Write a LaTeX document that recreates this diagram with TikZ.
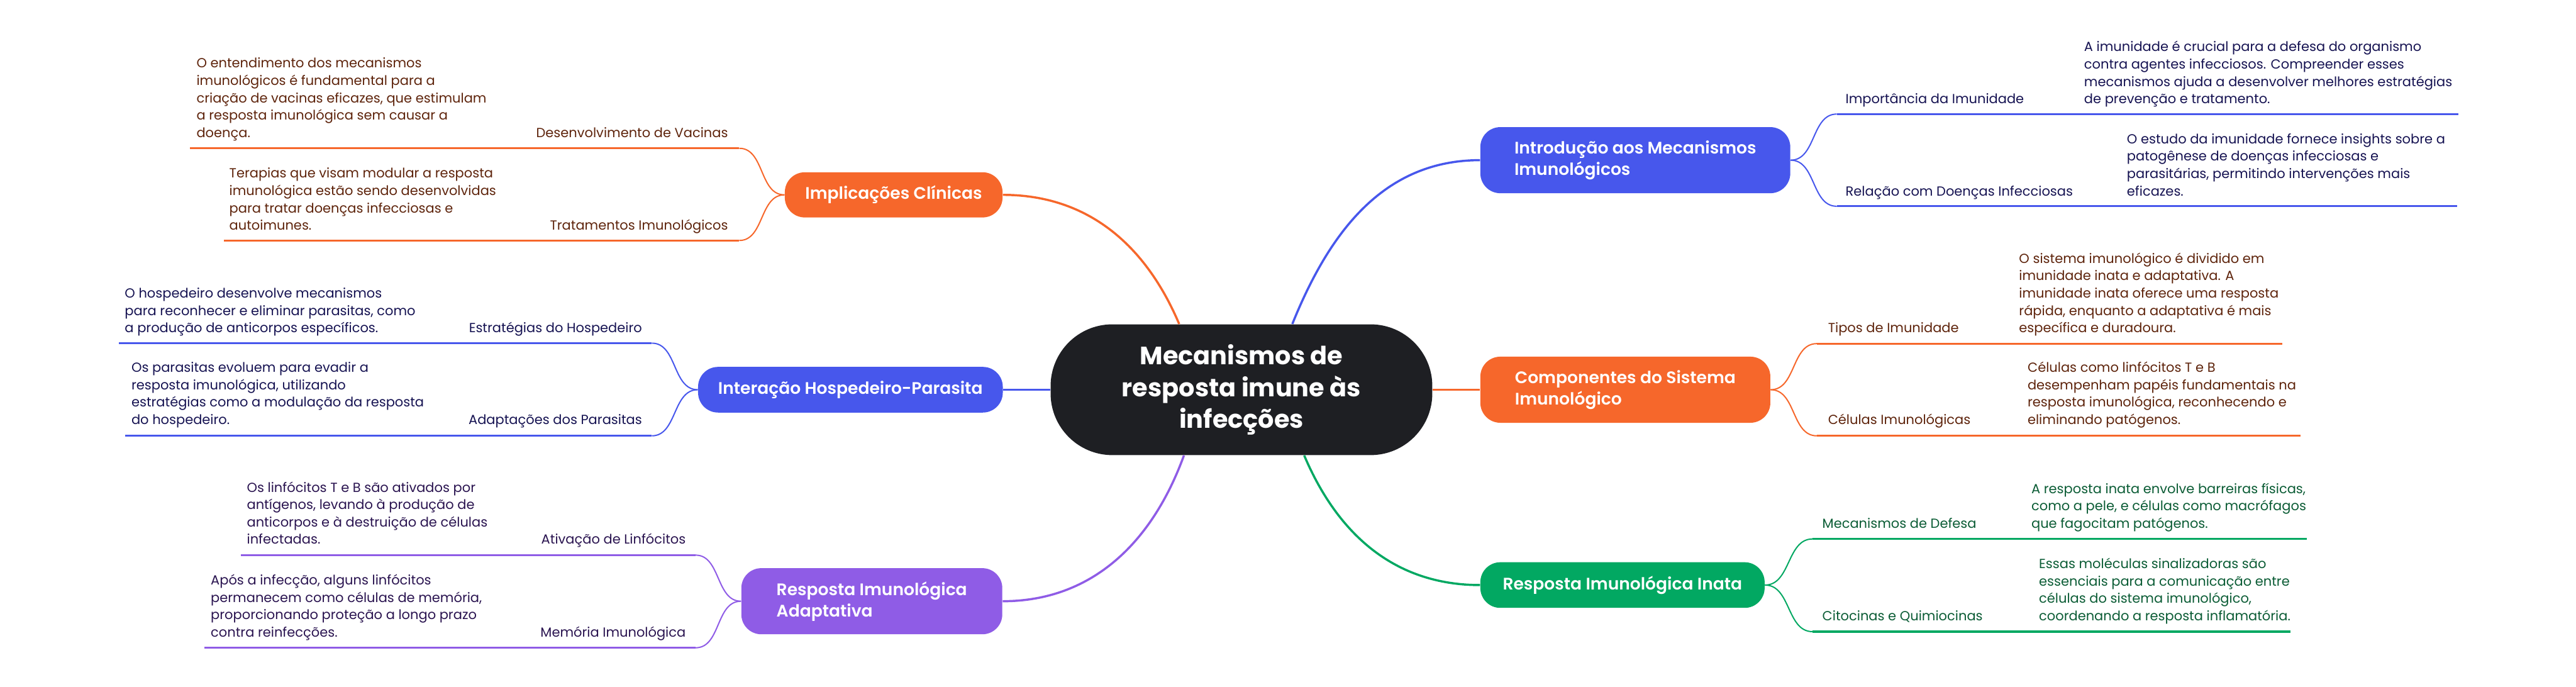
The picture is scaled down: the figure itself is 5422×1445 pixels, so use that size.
\documentclass[tikz,border=0pt]{standalone}
\usepackage{fontspec}
\setmainfont{Poppins}
\newfontfamily\semifont{Poppins SemiBold}
\usetikzlibrary{calc}
\definecolor{hub}{HTML}{1E1F23}
\definecolor{flame}{HTML}{F6672B}
\definecolor{royal}{HTML}{4757EC}
\definecolor{leaf}{HTML}{02A862}
\definecolor{grape}{HTML}{8F5CE6}
\definecolor{flameInk}{HTML}{5E240C}
\definecolor{royalInk}{HTML}{161352}
\definecolor{leafInk}{HTML}{0B5C35}
\definecolor{grapeInk}{HTML}{2A1450}
\tikzset{
  hubnode/.style={rounded corners=1.3cm,fill=hub,text=white,align=center,inner sep=0pt,
                  minimum width=8.03cm,minimum height=2.75cm,
                  font=\fontsize{15}{19}\selectfont\bfseries},
  topic/.style={rounded corners=0.42cm,text=white,align=left,inner sep=0pt,
                font=\semifont\fontsize{10}{12.8}\selectfont},
  sublabel/.style={inner sep=0pt,font=\fontsize{7.9}{10.4}\selectfont},
  subtext/.style={sublabel,align=left},
  trunk/.style={line width=1.3pt},
  twig/.style={line width=0.75pt},
  rule/.style={line width=1.15pt}
}
\begin{document}
\begin{tikzpicture}[x=0.01cm,y=-0.01cm]
  \useasboundingbox (0,0) rectangle (5422,1445);

  % centre
  \node[hubnode] (hub) at (2613,820) {Mecanismos de\\resposta imune às\\infecções};

  % main topics
  \node[topic,fill=flame,minimum width=4.58cm,minimum height=0.95cm] (impl) at (1881,410) {Implicações Clínicas};
  \node[topic,fill=royal,minimum width=6.41cm,minimum height=0.96cm] (inter) at (1790,820) {Interação Hospedeiro-Parasita};
  \node[topic,fill=grape,minimum width=5.49cm,minimum height=1.39cm] (adapt) at (1835,1265) {Resposta Imunológica\\Adaptativa};
  \node[topic,fill=royal,minimum width=6.52cm,minimum height=1.39cm] (intro) at (3442,337) {Introdução aos Mecanismos\\Imunológicos};
  \node[topic,fill=flame,minimum width=6.10cm,minimum height=1.39cm] (comp) at (3421,820) {Componentes do Sistema\\Imunológico};
  \node[topic,fill=leaf,minimum width=5.98cm,minimum height=0.96cm] (inata) at (3415,1231) {Resposta Imunológica Inata};

  \draw[trunk,flame] ([xshift=-1.31cm]hub.north) to[out=113,in=0] (impl.east);
  \draw[trunk,royal] (hub.west) -- (inter.east);
  \draw[trunk,grape] ([xshift=-1.21cm]hub.south) to[out=250,in=0] (adapt.east);
  \draw[trunk,royal] ([xshift=1.07cm]hub.north) to[out=68,in=180] (intro.west);
  \draw[trunk,flame] (hub.east) -- (comp.west);
  \draw[trunk,leaf] ([xshift=1.32cm]hub.south) to[out=-67,in=180] (inata.west);

  % Implicações Clínicas
  \coordinate (vacA) at (1556,312); \coordinate (vacB) at (400,312);
  \coordinate (traA) at (1556,506); \coordinate (traB) at (471,506);
  \node[sublabel,text=flameInk,anchor=base east] (vacL) at (1533,289) {Desenvolvimento de Vacinas};
  \node[subtext,text=flameInk,anchor=base west] (vacT) at (413,289) {O entendimento dos mecanismos\\imunológicos é fundamental para a\\criação de vacinas eficazes, que estimulam\\a resposta imunológica sem causar a\\doença.};
  \node[sublabel,text=flameInk,anchor=base east] (traL) at (1533,484) {Tratamentos Imunológicos};
  \node[subtext,text=flameInk,anchor=base west] (traT) at (482,484) {Terapias que visam modular a resposta\\imunológica estão sendo desenvolvidas\\para tratar doenças infecciosas e\\autoimunes.};
  \draw[twig,flame] (impl.west) to[out=180,in=0] (vacA);
  \draw[twig,flame] (impl.west) to[out=180,in=0] (traA);
  \draw[rule,flame] (vacA) -- (vacB);
  \draw[rule,flame] (traA) -- (traB);

  % Interação Hospedeiro-Parasita
  \coordinate (estA) at (1372,722); \coordinate (estB) at (250,722);
  \coordinate (parA) at (1372,917); \coordinate (parB) at (264,917);
  \node[sublabel,text=royalInk,anchor=base east] (estL) at (1352,700) {Estratégias do Hospedeiro};
  \node[subtext,text=royalInk,anchor=base west] (estT) at (262,700) {O hospedeiro desenvolve mecanismos\\para reconhecer e eliminar parasitas, como\\a produção de anticorpos específicos.};
  \node[sublabel,text=royalInk,anchor=base east] (parL) at (1352,893) {Adaptações dos Parasitas};
  \node[subtext,text=royalInk,anchor=base west] (parT) at (276,893) {Os parasitas evoluem para evadir a\\resposta imunológica, utilizando\\estratégias como a modulação da resposta\\do hospedeiro.};
  \draw[twig,royal] (inter.west) to[out=180,in=0] (estA);
  \draw[twig,royal] (inter.west) to[out=180,in=0] (parA);
  \draw[rule,royal] (estA) -- (estB);
  \draw[rule,royal] (parA) -- (parB);

  % Resposta Imunológica Adaptativa
  \coordinate (atvA) at (1464,1168); \coordinate (atvB) at (507,1168);
  \coordinate (memA) at (1464,1363); \coordinate (memB) at (430,1363);
  \node[sublabel,text=grapeInk,anchor=base east] (atvL) at (1444,1145) {Ativação de Linfócitos};
  \node[subtext,text=grapeInk,anchor=base west] (atvT) at (519,1145) {Os linfócitos T e B são ativados por\\antígenos, levando à produção de\\anticorpos e à destruição de células\\infectadas.};
  \node[sublabel,text=grapeInk,anchor=base east] (memL) at (1444,1340) {Memória Imunológica};
  \node[subtext,text=grapeInk,anchor=base west] (memT) at (443,1340) {Após a infecção, alguns linfócitos\\permanecem como células de memória,\\proporcionando proteção a longo prazo\\contra reinfecções.};
  \draw[twig,grape] (adapt.west) to[out=180,in=0] (atvA);
  \draw[twig,grape] (adapt.west) to[out=180,in=0] (memA);
  \draw[rule,grape] (atvA) -- (atvB);
  \draw[rule,grape] (memA) -- (memB);

  % Introdução aos Mecanismos Imunológicos
  \coordinate (impA) at (3866,240); \coordinate (impB) at (5175,240);
  \coordinate (relA) at (3866,434); \coordinate (relB) at (5172,434);
  \node[sublabel,text=royalInk,anchor=base west] (impL) at (3884,218) {Importância da Imunidade};
  \node[subtext,text=royalInk,anchor=base west] (impT) at (4386,218) {A imunidade é crucial para a defesa do organismo\\contra agentes infecciosos. Compreender esses\\mecanismos ajuda a desenvolver melhores estratégias\\de prevenção e tratamento.};
  \node[sublabel,text=royalInk,anchor=base west] (relL) at (3884,412) {Relação com Doenças Infecciosas};
  \node[subtext,text=royalInk,anchor=base west] (relT) at (4476,412) {O estudo da imunidade fornece insights sobre a\\patogênese de doenças infecciosas e\\parasitárias, permitindo intervenções mais\\eficazes.};
  \draw[twig,royal] (intro.east) to[out=0,in=180] (impA);
  \draw[twig,royal] (intro.east) to[out=0,in=180] (relA);
  \draw[rule,royal] (impA) -- (impB);
  \draw[rule,royal] (relA) -- (relB);

  % Componentes do Sistema Imunológico
  \coordinate (tipA) at (3824,723); \coordinate (tipB) at (4804,723);
  \coordinate (celA) at (3824,917); \coordinate (celB) at (4842,917);
  \node[sublabel,text=flameInk,anchor=base west] (tipL) at (3847,700) {Tipos de Imunidade};
  \node[subtext,text=flameInk,anchor=base west] (tipT) at (4249,700) {O sistema imunológico é dividido em\\imunidade inata e adaptativa. A\\imunidade inata oferece uma resposta\\rápida, enquanto a adaptativa é mais\\específica e duradoura.};
  \node[sublabel,text=flameInk,anchor=base west] (celL) at (3847,893) {Células Imunológicas};
  \node[subtext,text=flameInk,anchor=base west] (celT) at (4267,893) {Células como linfócitos T e B\\desempenham papéis fundamentais na\\resposta imunológica, reconhecendo e\\eliminando patógenos.};
  \draw[twig,flame] (comp.east) to[out=0,in=180] (tipA);
  \draw[twig,flame] (comp.east) to[out=0,in=180] (celA);
  \draw[rule,flame] (tipA) -- (tipB);
  \draw[rule,flame] (celA) -- (celB);

  % Resposta Imunológica Inata
  \coordinate (mecA) at (3815,1134); \coordinate (mecB) at (4855,1134);
  \coordinate (citA) at (3815,1329); \coordinate (citB) at (4821,1329);
  \node[sublabel,text=leafInk,anchor=base west] (mecL) at (3835,1111) {Mecanismos de Defesa};
  \node[subtext,text=leafInk,anchor=base west] (mecT) at (4275,1111) {A resposta inata envolve barreiras físicas,\\como a pele, e células como macrófagos\\que fagocitam patógenos.};
  \node[sublabel,text=leafInk,anchor=base west] (citL) at (3835,1306) {Citocinas e Quimiocinas};
  \node[subtext,text=leafInk,anchor=base west] (citT) at (4291,1306) {Essas moléculas sinalizadoras são\\essenciais para a comunicação entre\\células do sistema imunológico,\\coordenando a resposta inflamatória.};
  \draw[twig,leaf] (inata.east) to[out=0,in=180] (mecA);
  \draw[twig,leaf] (inata.east) to[out=0,in=180] (citA);
  \draw[rule,leaf] (mecA) -- (mecB);
  \draw[rule,leaf] (citA) -- (citB);
\end{tikzpicture}
\end{document}
